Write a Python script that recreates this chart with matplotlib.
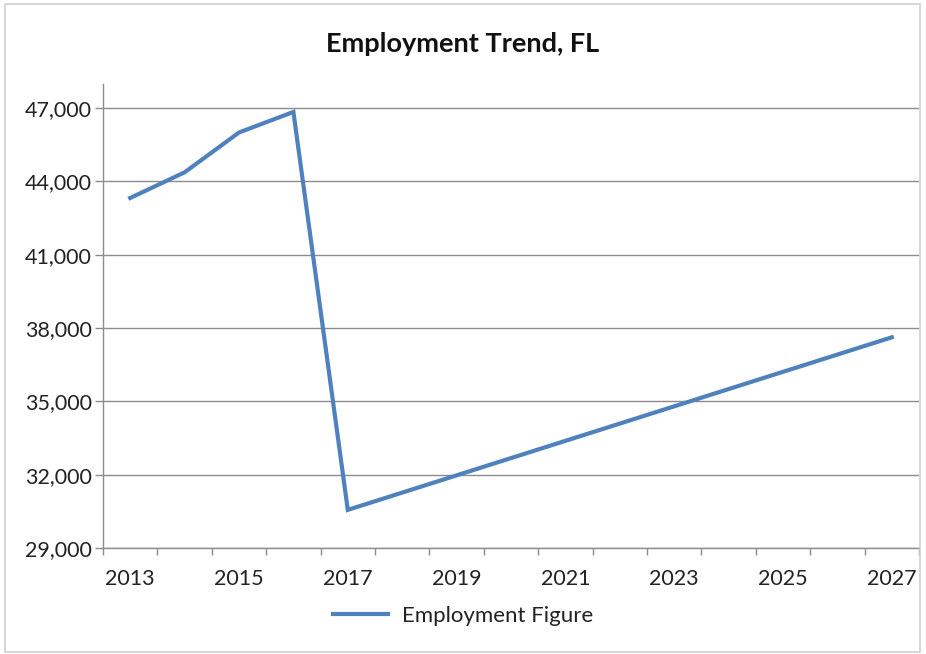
import matplotlib.pyplot as plt
from matplotlib.patches import Rectangle
from matplotlib.ticker import FuncFormatter

# data
years = [2013, 2014, 2015, 2016, 2017, 2027]
employment = [43320, 44370, 46000, 46840, 30560, 37620]
xtick_years = [2013, 2015, 2017, 2019, 2021, 2023, 2025, 2027]
ytick_vals = [29000, 32000, 35000, 38000, 41000, 44000, 47000]

plt.rcParams['font.family'] = ['Lato', 'DejaVu Sans']

fig = plt.figure(figsize=(9.26, 6.54), dpi=100)
# light border around the whole chart
fig.patches.append(Rectangle((5 / 926, 2 / 654), 915 / 926, 648 / 654,
                             transform=fig.transFigure, fill=False,
                             edgecolor='#d0d0d0', linewidth=1.2))

ax = fig.add_axes([103 / 926, 1 - 548 / 654, 816 / 926, (548 - 83.6) / 654])
ax.plot(years, employment, color='#4F81BD', linewidth=3,
        solid_joinstyle='miter', label='Employment Figure')

ax.set_xlim(2012.5, 2027.5)
ax.set_ylim(29000, 48000)
ax.set_yticks(ytick_vals)
ax.yaxis.set_major_formatter(FuncFormatter(lambda v, p: f'{int(v):,}'))
ax.set_xticks(xtick_years)
ax.set_xticks([y + 0.5 for y in range(2012, 2028)], minor=True)
ax.tick_params(axis='x', which='major', length=0, pad=15, labelsize=15.5, colors='#222222')
ax.tick_params(axis='x', which='minor', length=5, color='#8c8c8c', width=1)
ax.tick_params(axis='y', length=6, color='#8c8c8c', width=1, pad=2,
               labelsize=15.5, labelcolor='#222222')

ax.grid(axis='y', color='#8c8c8c', linewidth=1)
ax.set_axisbelow(True)
for side in ['top', 'right']:
    ax.spines[side].set_visible(False)
for side in ['left', 'bottom']:
    ax.spines[side].set_color('#8c8c8c')
    ax.spines[side].set_linewidth(1)

fig.text(0.5, 1 - 44 / 654, 'Employment Trend, FL', ha='center', va='center',
         fontsize=19.5, fontweight='bold', color='#111111')

fig.legend(loc='center', bbox_to_anchor=(0.5, 1 - 616 / 654), frameon=False,
           fontsize=16, handlelength=2.5, handletextpad=0.6,
           labelcolor='#222222')

fig.savefig('out.png', dpi=100)
